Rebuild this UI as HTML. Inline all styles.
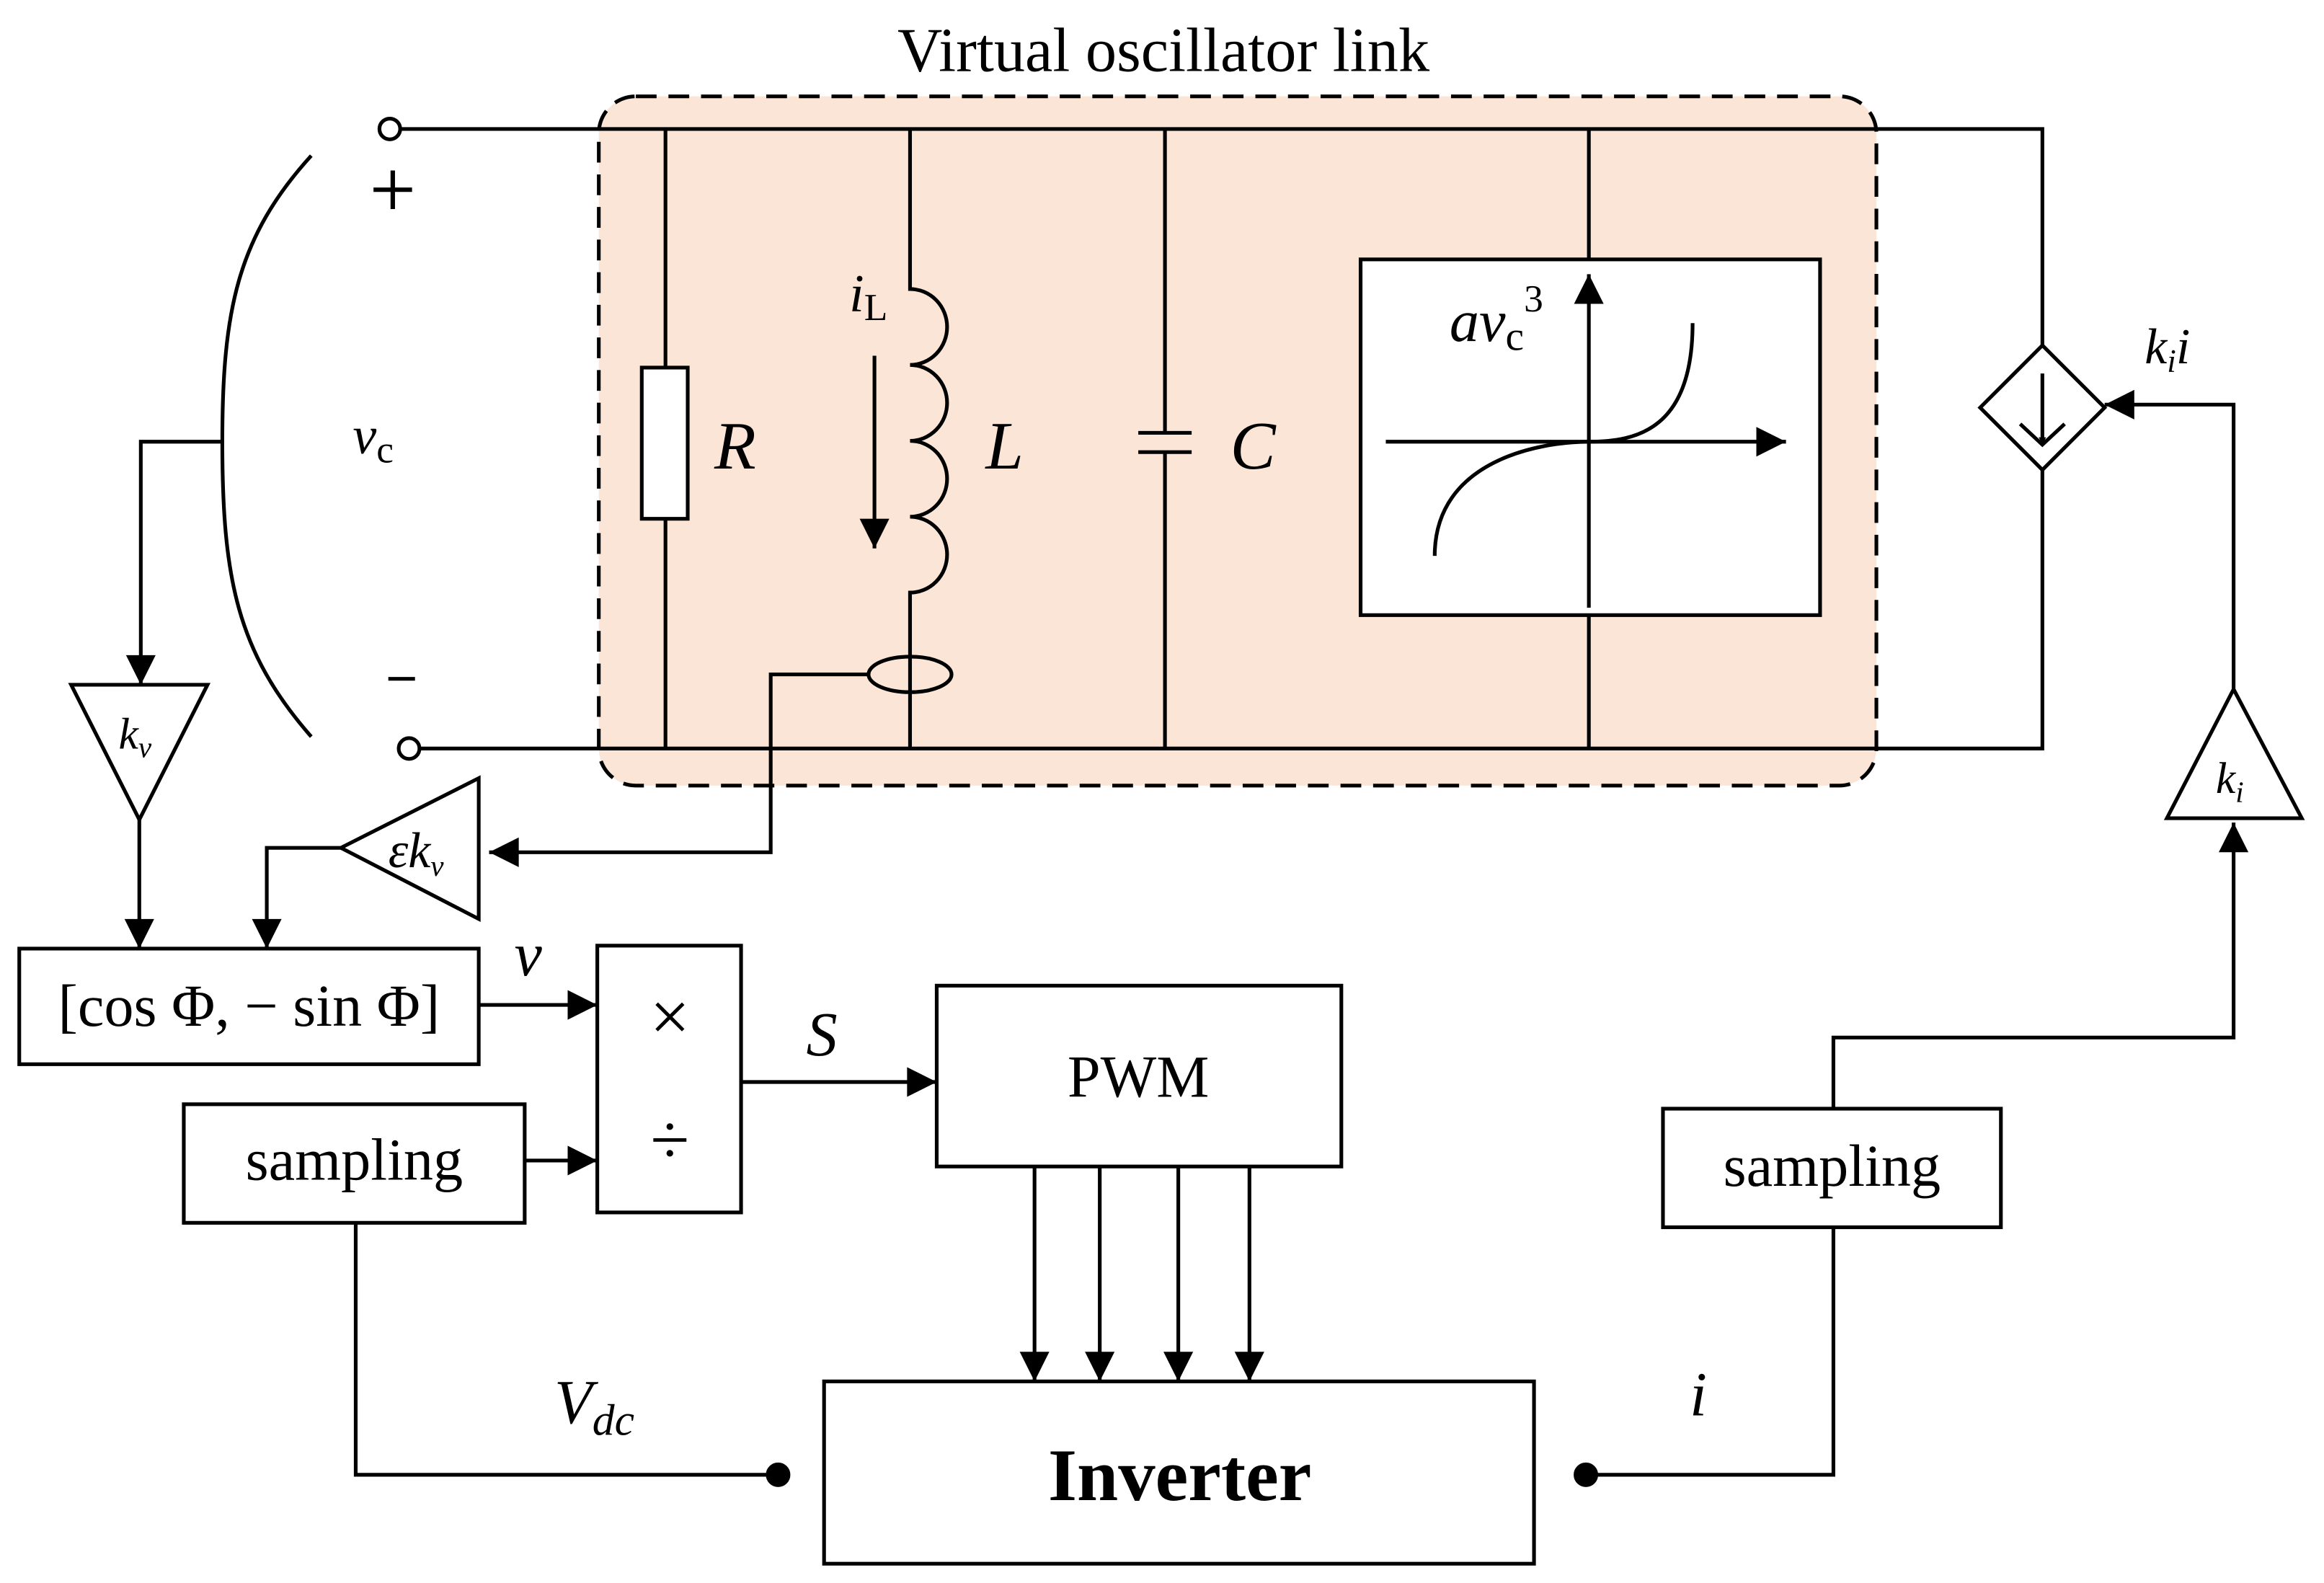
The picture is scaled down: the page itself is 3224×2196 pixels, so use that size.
<!DOCTYPE html>
<html><head><meta charset="utf-8"><style>
html,body{margin:0;padding:0;background:#fff}
svg{display:block}
text{font-family:"Liberation Serif",serif;fill:#000}
</style></head><body>
<svg width="3224" height="2196" viewBox="0 0 1568 1068" xmlns="http://www.w3.org/2000/svg">
<defs>
<marker id="a" viewBox="0 0 10 10" refX="10" refY="5" markerWidth="6" markerHeight="5" orient="auto" markerUnits="userSpaceOnUse"><path d="M0,0 L10,5 L0,10 z" fill="#000"/></marker>
<marker id="b" viewBox="0 0 10 10" refX="10" refY="5" markerWidth="30" markerHeight="20" orient="auto" markerUnits="userSpaceOnUse"><path d="M0,0 L10,5 L0,10 z" fill="#000"/></marker>
</defs>
<g stroke="#000" stroke-width="2.5" fill="none">
<rect x="404" y="65" width="862" height="465" rx="25" fill="#fbe5d6" stroke-dasharray="14,8"/>
<path d="M270,87 H1378 V505 H282"/>
<circle cx="263" cy="87" r="7" fill="#fff"/>
<circle cx="276" cy="505" r="7" fill="#fff"/>
<path d="M449,87 V248 M449,350 V505"/>
<rect x="433" y="248" width="31" height="102" fill="#fff"/>
<path d="M614,87 V195 a25,25.6 0 0 1 0,51.2 a25,25.6 0 0 1 0,51.2 a25,25.6 0 0 1 0,51.2 a25,25.6 0 0 1 0,51.2 V505"/>
<ellipse cx="614" cy="455" rx="28" ry="12" fill="none"/>
<path d="M586,455 H520 V575 H330" marker-end="url(#b)"/>
<path d="M590,240 V370" marker-end="url(#b)"/>
<path d="M786,87 V292 M786,305 V505 M768,292 H804 M768,305 H804"/>
<path d="M1072,87 V175 M1072,415 V505"/>
<rect x="918" y="175" width="310" height="240" fill="#fff"/>
<path d="M1072,410 V185" marker-end="url(#b)"/>
<path d="M935,298 H1205" marker-end="url(#b)"/>
<path d="M968,375 C968,310 1040,298 1072,298 C1104,298 1142,290 1142,218"/>
<path d="M210,105 C160,160 150,210 150,298 C150,390 160,440 210,497"/>
<path d="M150,298 H95 V462" marker-end="url(#b)"/>
<polygon points="48,462 140,462 94,553"/>
<path d="M94,553 V640" marker-end="url(#b)"/>
<polygon points="230,572 323,525 323,620"/>
<path d="M230,572 H180 V640" marker-end="url(#b)"/>
<polygon points="1378,233 1420,275 1378,317 1336,275" fill="#fff"/>
<path d="M1378,252 V300" marker-end="url(#a)"/>
<path d="M1363,286 L1378,300 L1393,286"/>
<path d="M1507,465 V273 H1420" marker-end="url(#b)"/>
<polygon points="1507,465 1553,552 1462,552"/>
<path d="M1237,748 V700 H1507 V555" marker-end="url(#b)"/>
<rect x="13" y="640" width="310" height="78"/>
<path d="M323,678 H403" marker-end="url(#b)"/>
<rect x="403" y="638" width="97" height="180"/>
<rect x="124" y="745" width="230" height="80"/>
<path d="M354,783 H403" marker-end="url(#b)"/>
<path d="M500,730 H632" marker-end="url(#b)"/>
<rect x="632" y="665" width="273" height="122"/>
<path d="M698,787 V932" marker-end="url(#b)"/>
<path d="M742,787 V932" marker-end="url(#b)"/>
<path d="M795,787 V932" marker-end="url(#b)"/>
<path d="M843,787 V932" marker-end="url(#b)"/>
<rect x="556" y="932" width="479" height="123"/>
<path d="M240,825 V995 H525"/>
<circle cx="525" cy="995" r="7" fill="#000"/>
<path d="M1070,995 H1237 V828"/>
<circle cx="1070" cy="995" r="7" fill="#000"/>
<rect x="1122" y="748" width="228" height="80"/>
<path d="M252,128 H278 M265,115 V141" stroke-width="3"/>
<path d="M262,458 H280" stroke-width="2.5"/>
</g>
<text x="785" y="48" font-size="42" text-anchor="middle">Virtual oscillator link</text>
<text x="238" y="306" font-size="36" font-style="italic">v<tspan font-size="26" font-style="normal" dy="6">c</tspan></text>
<text x="482" y="316" font-size="46" font-style="italic">R</text>
<text x="665" y="316" font-size="46" font-style="italic">L</text>
<text x="830" y="316" font-size="46" font-style="italic">C</text>
<text x="573" y="210" font-size="36" font-style="italic">i<tspan font-size="26" font-style="normal" dy="6">L</tspan></text>
<text x="978" y="230" font-size="40" font-style="italic">av<tspan font-size="28" font-style="normal" dy="6">c</tspan><tspan font-size="26" font-style="normal" dy="-26">3</tspan></text>
<text x="1447" y="245" font-size="34" font-style="italic">k<tspan font-size="22" dy="6">i</tspan><tspan dy="-6">i</tspan></text>
<text x="80" y="505" font-size="30" font-style="italic">k<tspan font-size="20" dy="6">v</tspan></text>
<text x="1495" y="535" font-size="30" font-style="italic">k<tspan font-size="20" dy="6">i</tspan></text>
<text x="262" y="585" font-size="34" font-style="italic">εk<tspan font-size="20" dy="6">v</tspan></text>
<text x="168" y="692" font-size="40" text-anchor="middle">[cos Φ, − sin Φ]</text>
<text x="347" y="658" font-size="42" font-style="italic">v</text>
<text x="452" y="702" font-size="48" text-anchor="middle">×</text>
<text x="452" y="785" font-size="48" text-anchor="middle">÷</text>
<text x="239" y="796" font-size="40" text-anchor="middle">sampling</text>
<text x="544" y="712" font-size="42" font-style="italic">S</text>
<text x="768" y="740" font-size="40" text-anchor="middle">PWM</text>
<text x="796" y="1012" font-size="50" font-weight="bold" text-anchor="middle">Inverter</text>
<text x="1236" y="800" font-size="40" text-anchor="middle">sampling</text>
<text x="374" y="960" font-size="42" font-style="italic">V<tspan font-size="30" dy="8">dc</tspan></text>
<text x="1140" y="955" font-size="42" font-style="italic">i</text>
</svg>
</body></html>
